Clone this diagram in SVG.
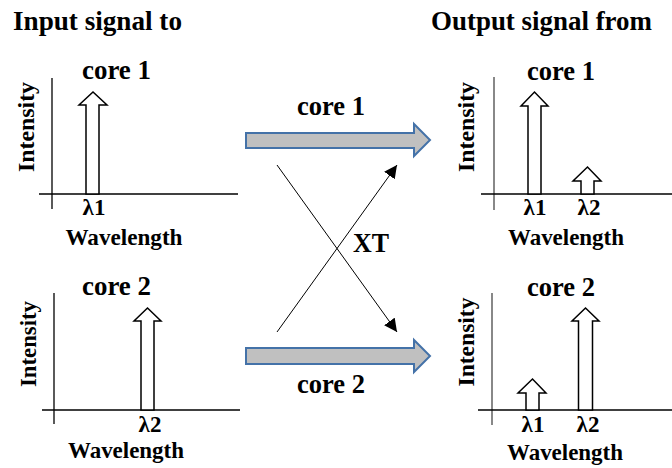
<svg xmlns="http://www.w3.org/2000/svg" width="672" height="468" viewBox="0 0 672 468">
<style>
text{font-family:"Liberation Serif","Times New Roman",serif;font-weight:bold;fill:#000}
.title{font-size:27px}
.core{font-size:27px}
.lab{font-size:24px}
.lam{font-size:23px}
.ax{stroke:#000;stroke-width:1.3;fill:none}
.axg{stroke:#888;stroke-width:2;fill:none}
.sig{fill:#fff;stroke:#000;stroke-width:1.5;stroke-linejoin:miter}
.blk{fill:#c0c0c0;stroke:#4472a8;stroke-width:2}
.xt{stroke:#000;stroke-width:1;fill:none;marker-end:url(#ah)}
</style>
<defs>
<marker id="ah" viewBox="0 0 10 10" refX="10" refY="5" markerWidth="13" markerHeight="13" markerUnits="userSpaceOnUse" orient="auto">
<path d="M0,0 L10,5 L0,10 Z" fill="#000"/>
</marker>
</defs>
<text class="title" x="13" y="30" textLength="169" lengthAdjust="spacingAndGlyphs">Input signal to</text>
<text class="title" x="431" y="30" textLength="221" lengthAdjust="spacingAndGlyphs">Output signal from</text>
<g id="in1">
<line class="ax" x1="52" y1="78" x2="52" y2="209"/>
<line class="ax" x1="39" y1="194" x2="238" y2="194"/>
<path class="sig" d="M86,194 V105 H79 L93,92 L107,105 H99 V194 Z"/>
<text class="core" x="116.5" y="79" text-anchor="middle" textLength="69" lengthAdjust="spacingAndGlyphs">core 1</text>
<text class="lab" transform="translate(34,127) rotate(-90)" text-anchor="middle" textLength="90" lengthAdjust="spacingAndGlyphs">Intensity</text>
<text class="lam" x="94" y="215" text-anchor="middle">λ1</text>
<text class="lab" x="124" y="245" text-anchor="middle" textLength="117" lengthAdjust="spacingAndGlyphs">Wavelength</text>
</g>
<g id="in2">
<line class="ax" x1="54" y1="293" x2="54" y2="424"/>
<line class="ax" x1="42" y1="410" x2="240" y2="410"/>
<path class="sig" d="M141,410 V321 H134 L147.5,308 L161,321 H154 V410 Z"/>
<text class="core" x="116.5" y="295" text-anchor="middle" textLength="69" lengthAdjust="spacingAndGlyphs">core 2</text>
<text class="lab" transform="translate(36,344) rotate(-90)" text-anchor="middle" textLength="86" lengthAdjust="spacingAndGlyphs">Intensity</text>
<text class="lam" x="150" y="432" text-anchor="middle">λ2</text>
<text class="lab" x="126" y="458" text-anchor="middle" textLength="116" lengthAdjust="spacingAndGlyphs">Wavelength</text>
</g>
<g id="out1">
<line class="axg" x1="494" y1="77" x2="494" y2="210"/>
<line class="ax" x1="481" y1="194" x2="672" y2="194"/>
<path class="sig" d="M528,194 V106 H521 L534.5,92 L548,106 H541 V194 Z"/>
<path class="sig" d="M581,194 V181 H573 L587.5,167 L601,181 H594 V194 Z"/>
<text class="core" x="561" y="80" text-anchor="middle" textLength="68" lengthAdjust="spacingAndGlyphs">core 1</text>
<text class="lab" transform="translate(474,127) rotate(-90)" text-anchor="middle" textLength="90" lengthAdjust="spacingAndGlyphs">Intensity</text>
<text class="lam" x="535" y="215" text-anchor="middle">λ1</text>
<text class="lam" x="589" y="215" text-anchor="middle">λ2</text>
<text class="lab" x="566" y="245" text-anchor="middle" textLength="116" lengthAdjust="spacingAndGlyphs">Wavelength</text>
</g>
<g id="out2">
<line class="axg" x1="492" y1="293" x2="492" y2="425"/>
<line class="ax" x1="478" y1="410" x2="672" y2="410"/>
<path class="sig" d="M526,410 V393 H518 L532.5,379 L546,393 H539 V410 Z"/>
<path class="sig" d="M578.5,410 V321 H572 L585.5,308 L599,321 H592.5 V410 Z"/>
<text class="core" x="561" y="296" text-anchor="middle" textLength="68" lengthAdjust="spacingAndGlyphs">core 2</text>
<text class="lab" transform="translate(474,342) rotate(-90)" text-anchor="middle" textLength="89" lengthAdjust="spacingAndGlyphs">Intensity</text>
<text class="lam" x="533" y="432" text-anchor="middle">λ1</text>
<text class="lam" x="588" y="432" text-anchor="middle">λ2</text>
<text class="lab" x="565" y="460" text-anchor="middle" textLength="116" lengthAdjust="spacingAndGlyphs">Wavelength</text>
</g>
<g id="core1">
<path class="blk" d="M246,133 H414 V124 L430,140 L414,156 V148 H246 Z"/>
<text class="core" x="331" y="115" text-anchor="middle" textLength="68" lengthAdjust="spacingAndGlyphs">core 1</text>
</g>
<g id="core2">
<path class="blk" d="M246,348 H414 V340 L430,356 L414,372 V364 H246 Z"/>
<text class="core" x="331" y="393" text-anchor="middle" textLength="68" lengthAdjust="spacingAndGlyphs">core 2</text>
</g>
<g id="connectors">
<line class="xt" x1="277" y1="165" x2="397" y2="332"/>
<line class="xt" x1="277" y1="332" x2="397" y2="165"/>
</g>
<g id="xt">
<text class="core" x="353" y="252" textLength="36" lengthAdjust="spacingAndGlyphs">XT</text>
</g>
</svg>
